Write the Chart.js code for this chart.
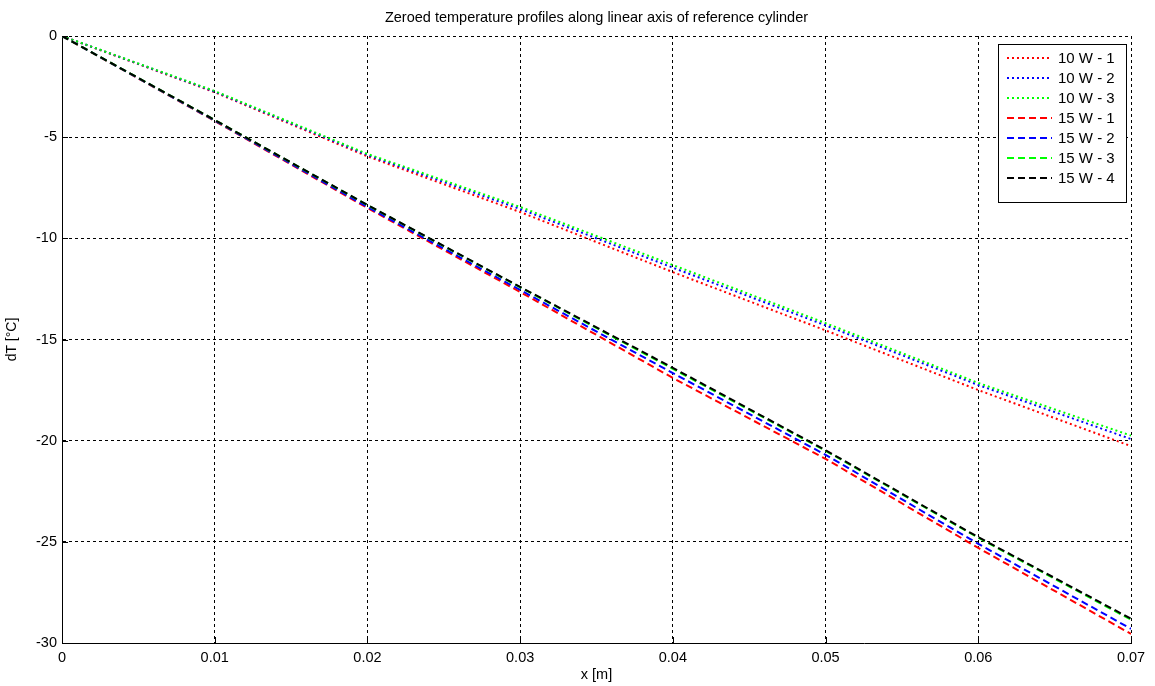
<!DOCTYPE html>
<html>
<head>
<meta charset="utf-8">
<script src="https://cdn.jsdelivr.net/npm/chart.js@4"></script>
<style>
  html, body { margin: 0; padding: 0; background: #fff; }
  #wrap { width: 1155px; height: 686px; position: relative; }
</style>
</head>
<body>
<div id="wrap"><canvas id="grafica" width="1155" height="686"></canvas></div>
<script>
// posiciones a lo largo del eje (m)
var posiciones = [0, 0.01, 0.02, 0.03, 0.04, 0.05, 0.06, 0.07];

// perfiles de temperatura (dT en °C)
var w10_1 = [0, -2.78, -5.95, -8.70, -11.67, -14.55, -17.50, -20.27];
var w10_2 = [0, -2.75, -5.88, -8.55, -11.45, -14.30, -17.25, -19.92];
var w10_3 = [0, -2.72, -5.83, -8.45, -11.32, -14.19, -17.15, -19.75];
var w15_1 = [0, -4.20, -8.50, -12.65, -16.90, -20.90, -25.30, -29.55];
var w15_2 = [0, -4.18, -8.45, -12.55, -16.66, -20.70, -25.10, -29.30];
var w15_3 = [0, -4.15, -8.36, -12.42, -16.45, -20.50, -24.80, -28.85];
var w15_4 = [0, -4.15, -8.35, -12.40, -16.40, -20.47, -24.77, -28.80];

var etiquetas = ['10 W - 1', '10 W - 2', '10 W - 3', '15 W - 1', '15 W - 2', '15 W - 3', '15 W - 4'];
var series = [w10_1, w10_2, w10_3, w15_1, w15_2, w15_3, w15_4];
var colores = ['#ff0000', '#0000ff', '#00ff00', '#ff0000', '#0000ff', '#00ff00', '#000000'];

var punteado = [2, 3];
var rayado = [7, 4];

var xTicks = [0, 0.01, 0.02, 0.03, 0.04, 0.05, 0.06, 0.07];
var yTicks = [0, -5, -10, -15, -20, -25, -30];

var titulo = 'Zeroed temperature profiles along linear axis of reference cylinder';
var fuente = '"Liberation Sans", Arial, sans-serif';

var datasets = series.map(function (valores, i) {
    return {
        label: etiquetas[i],
        data: valores.map(function (v, j) { return { x: posiciones[j], y: v }; }),
        borderColor: colores[i],
        backgroundColor: colores[i],
        borderWidth: 2,
        borderDash: i < 3 ? punteado : rayado,
        pointRadius: 0,
        tension: 0,
        order: series.length - i
    };
});

// titulo centrado en el area, marcas de tick hacia dentro y leyenda con recuadro (estilo matlab)
var estiloMatlab = {
    id: 'estiloMatlab',
    afterDraw: function (chart) {
        var ctx = chart.ctx;
        var xs = chart.scales.x, ys = chart.scales.y;
        var area = chart.chartArea;
        ctx.save();

        ctx.fillStyle = '#000';
        ctx.font = '14.5px ' + fuente;
        ctx.textAlign = 'center';
        ctx.textBaseline = 'middle';
        ctx.fillText(titulo, (area.left + area.right) / 2, 18);

        ctx.strokeStyle = '#000';
        ctx.lineWidth = 1;
        ctx.setLineDash([]);
        xTicks.forEach(function (t) {
            var px = Math.round(xs.getPixelForValue(t)) + 0.5;
            ctx.beginPath();
            ctx.moveTo(px, area.bottom);
            ctx.lineTo(px, area.bottom - 6);
            ctx.stroke();
        });
        yTicks.forEach(function (t) {
            var py = Math.round(ys.getPixelForValue(t)) + 0.5;
            ctx.beginPath();
            ctx.moveTo(area.left, py);
            ctx.lineTo(area.left + 6, py);
            ctx.stroke();
        });

        // leyenda
        var lx = 998.5, ly = 44.5, lw = 128, lh = 158;
        ctx.fillStyle = '#fff';
        ctx.fillRect(lx, ly, lw, lh);
        ctx.strokeStyle = '#000';
        ctx.strokeRect(lx, ly, lw, lh);
        ctx.font = '15px ' + fuente;
        ctx.textAlign = 'left';
        ctx.textBaseline = 'middle';
        etiquetas.forEach(function (et, i) {
            var y = 58 + i * 20;
            ctx.strokeStyle = colores[i];
            ctx.lineWidth = 2;
            ctx.setLineDash(i < 3 ? punteado : rayado);
            ctx.beginPath();
            ctx.moveTo(1007, y);
            ctx.lineTo(1052, y);
            ctx.stroke();
            ctx.fillStyle = '#000';
            ctx.fillText(et, 1058, y + 1);
        });
        ctx.restore();
    }
};

var ctx = document.getElementById('grafica').getContext('2d');
var myChart = new Chart(ctx, {
    type: 'line',
    data: { datasets: datasets },
    plugins: [estiloMatlab],
    options: {
        responsive: false,
        animation: false,
        layout: { padding: { left: 0, right: 24, top: 36, bottom: 0 } },
        plugins: {
            legend: { display: false },
            tooltip: { enabled: false },
            title: { display: false }
        },
        scales: {
            x: {
                type: 'linear',
                min: 0,
                max: 0.07,
                afterBuildTicks: function (scale) {
                    scale.ticks = xTicks.map(function (v) { return { value: v }; });
                },
                afterFit: function (scale) { scale.height = 43; },
                ticks: {
                    color: '#000',
                    padding: 6,
                    maxRotation: 0,
                    font: { family: fuente, size: 14.5 },
                    callback: function (v) { return v === 0 ? '0' : v.toFixed(2); }
                },
                grid: { color: '#000', lineWidth: 1, drawTicks: false },
                border: { display: true, color: '#000', width: 1, dash: [3, 3] },
                title: {
                    display: true,
                    text: 'x [m]',
                    color: '#000',
                    font: { family: fuente, size: 14.5 },
                    padding: { top: 0, bottom: 2 }
                }
            },
            y: {
                type: 'linear',
                min: -30,
                max: 0,
                afterBuildTicks: function (scale) {
                    scale.ticks = yTicks.slice().reverse().map(function (v) { return { value: v }; });
                },
                afterFit: function (scale) { scale.width = 62; },
                ticks: {
                    color: '#000',
                    padding: 5,
                    font: { family: fuente, size: 14.5 }
                },
                grid: { color: '#000', lineWidth: 1, drawTicks: false },
                border: { display: true, color: '#000', width: 1, dash: [3, 3] },
                title: {
                    display: true,
                    text: 'dT [°C]',
                    color: '#000',
                    font: { family: fuente, size: 14 },
                    padding: { top: 4, bottom: 0 }
                }
            }
        }
    }
});
</script>
</body>
</html>
